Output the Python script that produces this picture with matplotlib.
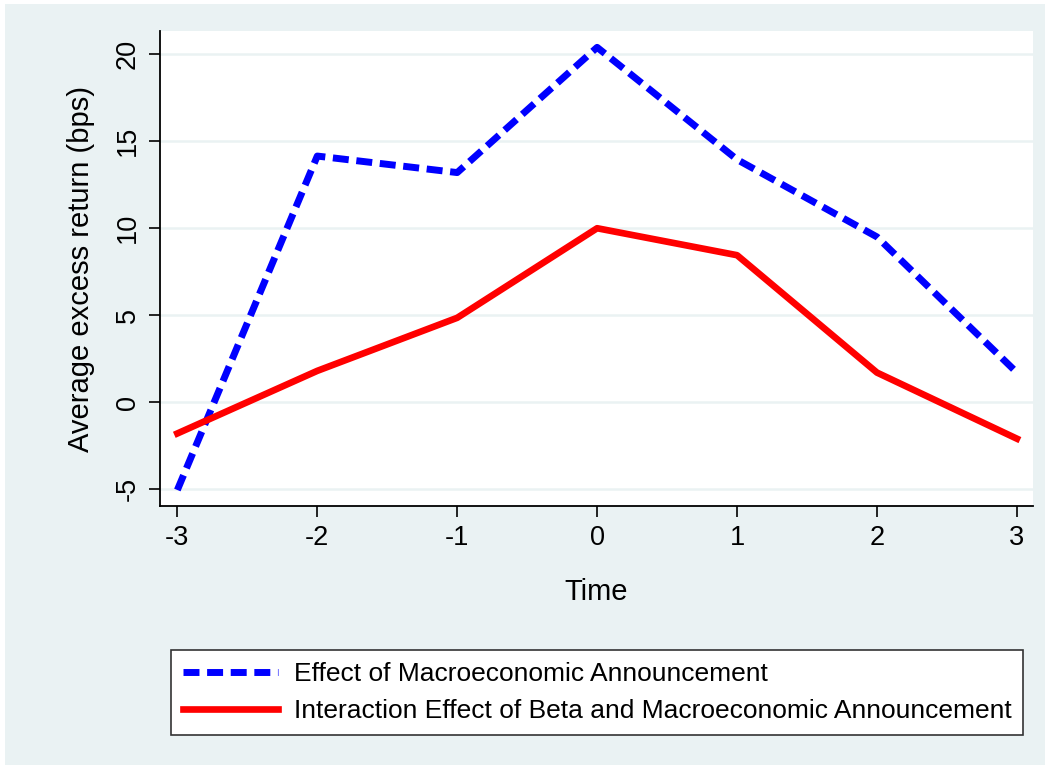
import matplotlib
matplotlib.use("Agg")
import matplotlib.pyplot as plt
from matplotlib.patches import Rectangle

plt.rcParams['font.family'] = ['Liberation Sans', 'DejaVu Sans']

time = [-3, -2, -1, 0, 1, 2, 3]
macro_effect = [-5.05, 14.15, 13.2, 20.4, 13.95, 9.5, 1.7]
interaction_effect = [-1.8, 1.8, 4.85, 10.0, 8.45, 1.7, -2.1]
y_ticks = [-5, 0, 5, 10, 15, 20]

bg = '#EAF2F3'

fig = plt.figure(figsize=(10.49, 7.69), dpi=100)
fig.patch.set_facecolor('white')
# light outer panel like Stata's s2color scheme
fig.patches.append(Rectangle((5 / 1049, 4 / 769), 1040 / 1049, 761 / 769,
                             transform=fig.transFigure, facecolor=bg,
                             edgecolor='none', zorder=-10))

ax = fig.add_axes([160 / 1049, 1 - 506 / 769, 873 / 1049, 475 / 769])
ax.set_facecolor('white')

ax.plot(time, macro_effect, color='#0000FF', lw=5, linestyle=(0, (2.3, 1.1)),
        label='Effect of Macroeconomic Announcement', zorder=3)
ax.plot(time, interaction_effect, color='#FF0000', lw=4.8,
        label='Interaction Effect of Beta and Macroeconomic Announcement', zorder=3)

ax.set_xlim(-3.124, 3.115)
ax.set_ylim(-5.97, 21.34)
ax.set_xticks(time)
ax.set_xticklabels([str(t) for t in time])
ax.set_yticks(y_ticks)
ax.set_yticklabels([str(t) for t in y_ticks], rotation=90, va='center')
ax.grid(axis='y', color=bg, lw=1.8)
ax.set_axisbelow(True)

for side in ['top', 'right']:
    ax.spines[side].set_visible(False)
for side in ['left', 'bottom']:
    ax.spines[side].set_linewidth(1.3)
ax.tick_params(direction='out', length=8, width=1.2, labelsize=19.5, pad=6)

ax.set_xlabel('Time', fontsize=21, labelpad=19)
ax.set_ylabel('Average excess return (bps)', fontsize=21, labelpad=14)

leg = fig.legend(loc='center', bbox_to_anchor=(597 / 1049, 1 - 692.5 / 769),
                 ncol=1, fontsize=19, frameon=True, fancybox=False,
                 framealpha=1, edgecolor='#333333', handlelength=3.6,
                 handletextpad=0.6, borderpad=0.45, labelspacing=0.5,
                 borderaxespad=0)
leg.get_frame().set_linewidth(1.2)

fig.savefig('out.png', dpi=100, facecolor=fig.get_facecolor())
